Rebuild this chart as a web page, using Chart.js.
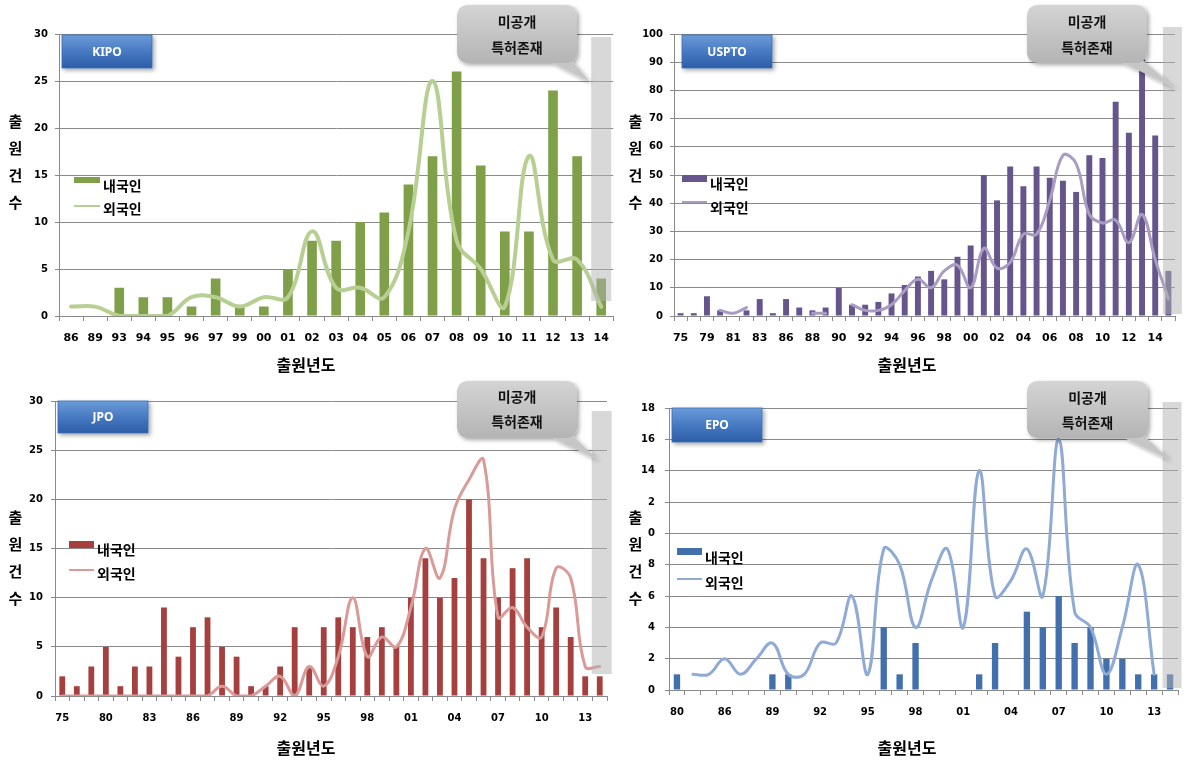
<!DOCTYPE html>
<html lang="ko">
<head>
<meta charset="utf-8">
<title>출원년도별 출원건수</title>
<script src="https://cdn.jsdelivr.net/npm/chart.js@4.4.1/dist/chart.umd.min.js"></script>
<style>
html,body{margin:0;padding:0;background:#fff;}
body{position:relative;width:1194px;height:761px;overflow:hidden;font-family:"Noto Sans CJK KR","Noto Sans",sans-serif;}
canvas{position:absolute;}
.ytitle{position:absolute;writing-mode:vertical-rl;text-orientation:upright;font-size:15px;font-weight:700;line-height:20px;letter-spacing:12px;color:#000;}
.xtitle{position:absolute;width:120px;text-align:center;font-size:16px;font-weight:700;line-height:20px;color:#000;}
.lgtext{position:absolute;font-size:14px;font-weight:700;line-height:16px;color:#000;white-space:nowrap;}
.sw{position:absolute;}
#overlay{position:absolute;left:0;top:0;}
</style>
</head>
<body>
<canvas id="cKipo" width="620" height="380" style="left:0;top:0;width:620px;height:380px;"></canvas>
<canvas id="cUspto" width="574" height="380" style="left:620px;top:0;width:574px;height:380px;"></canvas>
<canvas id="cJpo" width="620" height="381" style="left:0;top:380px;width:620px;height:381px;"></canvas>
<canvas id="cEpo" width="574" height="381" style="left:620px;top:380px;width:574px;height:381px;"></canvas>
<div id="texts"></div>
<svg id="overlay" width="1194" height="761" xmlns="http://www.w3.org/2000/svg">
  <defs>
    <linearGradient id="gBlue" x1="0" y1="0" x2="0" y2="1">
      <stop offset="0" stop-color="#6b9bd8"/><stop offset="0.55" stop-color="#4477c0"/><stop offset="1" stop-color="#2c5ea6"/>
    </linearGradient>
    <linearGradient id="gGrey" x1="0" y1="0" x2="0" y2="1">
      <stop offset="0" stop-color="#d4d4d4"/><stop offset="1" stop-color="#b4b4b4"/>
    </linearGradient>
    <filter id="sh" x="-20%" y="-30%" width="150%" height="170%">
      <feDropShadow dx="2" dy="2" stdDeviation="2" flood-color="#000" flood-opacity="0.35"/>
    </filter>
  </defs>
</svg>
<script>
// ---------- data ----------
const seriesNames = ['내국인', '외국인'];
const yAxisTitle = '출원건수';
const xAxisTitle = '출원년도';
const calloutLines = ['미공개', '특허존재'];

const kipoYears = ['86','89','93','94','95','96','97','99','00','01','02','03','04','05','06','07','08','09','10','11','12','13','14'];
const kipoDomestic = [0,0,3,2,2,1,4,1,1,5,8,8,10,11,14,17,26,16,9,9,24,17,4];
const kipoForeign  = [1,1,0,0,0,2,2,1,2,2,9,3,3,2,9,25,8,5,1,17,6,6,1];

const usptoYears = ['75','77','79','80','81','82','83','85','86','87','88','89','90','91','92','93','94','95','96','97','98','99','00','01','02','03','04','05','06','07','08','09','10','11','12','13','14','15'];
const usptoDomestic = [1,1,7,2,0,2,6,1,6,3,2,3,10,4,4,5,8,11,14,16,13,21,25,50,41,53,46,53,49,48,44,57,56,76,65,95,64,16];
const usptoForeign  = [null,null,null,2,1,3,null,null,null,null,1,1,null,4,2,2,4,9,13,10,16,18,10,24,17,19,29,29,41,57,54,36,33,34,26,36,20,6];

const jpoYears = ['75','77','79','80','81','82','83','84','85','86','87','88','89','90','91','92','93','94','95','96','97','98','99','00','01','02','03','04','05','06','07','08','09','10','11','12','13','14'];
const jpoDomestic = [2,1,3,5,1,3,3,9,4,7,8,5,4,1,1,3,7,3,7,8,7,6,7,5,10,14,10,12,20,14,10,13,14,7,9,6,2,2];
const jpoForeign  = [0,0,0,0,0,0,0,0,0,0,0,1,0,0,1,2,0,3,1,4,10,4,6,5,9,15,12,19,22,24,8,9,7,6,13,12,3,3];

const epoYears = ['80','82','84','86','87','88','89','90','91','92','93','94','95','96','97','98','99','00','01','02','03','04','05','06','07','08','09','10','11','12','13','14'];
const epoDomestic = [1,0,0,0,0,0,1,1,0,0,0,0,0,4,1,3,0,0,0,1,3,0,5,4,6,3,4,2,2,1,1,1];
const epoForeign  = [null,1,1,2,1,2,3,1,1,3,3,6,1,9,8,4,7,9,4,14,6,7,9,6,16,5,4,1,4,8,1,null];
const epoYTickLabels = ['0','2','4','6','8','0','2','14','16','18'];

// ---------- chart helpers ----------
Chart.defaults.font.family = '"DejaVu Sans", sans-serif';

const shadePlugin = {
  id: 'unpublishedShade',
  afterDatasetsDraw(chart, args, o) {
    const x = chart.scales.x, ca = chart.chartArea, ctx = chart.ctx;
    const cx = x.getPixelForValue(chart.data.labels.length - 1) + o.dx;
    const top = ca.top + o.top, bottom = ca.bottom + o.bottom;
    ctx.save();
    ctx.fillStyle = o.color;
    ctx.fillRect(cx - o.w / 2, top, o.w, bottom - top);
    ctx.restore();
  }
};

function panel(id, p) {
  return new Chart(document.getElementById(id), {
    type: 'bar',
    data: {
      labels: p.years,
      datasets: [
        { type: 'line', label: seriesNames[1], data: p.foreign, borderColor: p.lineColor,
          borderWidth: p.lineWidth, pointRadius: 0, tension: 0.4, fill: false, order: 0,
          borderCapStyle: 'round', borderJoinStyle: 'round' },
        { type: 'bar', label: seriesNames[0], data: p.domestic, backgroundColor: p.barColor,
          barPercentage: p.barPct, categoryPercentage: 1, order: 1 }
      ]
    },
    options: {
      responsive: false, animation: false, maintainAspectRatio: false,
      layout: { padding: { left: 0, top: p.top, right: p.right, bottom: 0 } },
      plugins: {
        legend: { display: false }, tooltip: { enabled: false },
        unpublishedShade: Object.assign({ color: 'rgba(178,178,178,0.5)' }, p.shade)
      },
      scales: {
        x: {
          offset: true,
          grid: { display: true, drawOnChartArea: false, drawTicks: true, tickLength: 5, color: '#8a8a8a', offset: true },
          border: { display: true, color: '#8a8a8a' },
          ticks: { autoSkip: false, maxRotation: 0, minRotation: 0, padding: 11, color: '#000',
                   font: { weight: 'bold', size: p.xFont },
                   callback: (v, i) => (i % p.step === 0 ? p.years[i] : '') },
          afterFit: s => { s.height = p.xH; }
        },
        y: {
          min: 0, max: p.max,
          grid: { color: '#8a8a8a', tickLength: 4 },
          border: { display: true, color: '#8a8a8a' },
          ticks: { stepSize: p.stepSize, padding: p.yPad, color: '#000', font: { weight: 'bold', size: 10 },
                   callback: p.yCb || (v => v) },
          afterFit: s => { s.width = p.left; }
        }
      }
    },
    plugins: [shadePlugin]
  });
}

panel('cKipo', { years: kipoYears, domestic: kipoDomestic, foreign: kipoForeign,
  barColor: '#7f9f48', lineColor: '#b8cf93', lineWidth: 4, barPct: 0.4,
  top: 34, right: 6, left: 59, xH: 64, xFont: 11, step: 1, max: 30, stepSize: 5, yPad: 7,
  shade: { dx: 0, w: 20, top: 3, bottom: -15 } });

panel('cUspto', { years: usptoYears, domestic: usptoDomestic, foreign: usptoForeign,
  barColor: '#66558c', lineColor: '#a99cc0', lineWidth: 3, barPct: 0.45,
  top: 34, right: 19, left: 54, xH: 64, xFont: 11, step: 2, max: 100, stepSize: 10, yPad: 7,
  shade: { dx: 4, w: 19, top: -7, bottom: -2 } });

panel('cJpo', { years: jpoYears, domestic: jpoDomestic, foreign: jpoForeign,
  barColor: '#a5403e', lineColor: '#d99a98', lineWidth: 3, barPct: 0.4,
  top: 21, right: 13, left: 55, xH: 65, xFont: 10, step: 3, max: 30, stepSize: 5, yPad: 8,
  shade: { dx: 2, w: 20, top: 10, bottom: -22 } });

panel('cEpo', { years: epoYears, domestic: epoDomestic, foreign: epoForeign,
  barColor: '#4170ad', lineColor: '#8eaad5', lineWidth: 3, barPct: 0.4,
  top: 28, right: 16, left: 49, xH: 71, xFont: 10, step: 3, max: 18, stepSize: 2, yPad: 10,
  yCb: (v, i) => epoYTickLabels[i],
  shade: { dx: 2, w: 19, top: -6, bottom: -2 } });

// ---------- HTML text: axis titles and legends ----------
const texts = document.getElementById('texts');
function addDiv(cls, style, text) {
  const d = document.createElement('div');
  d.className = cls; d.setAttribute('style', style);
  if (text !== undefined) d.textContent = text;
  texts.appendChild(d); return d;
}
const layouts = [
  { yt: [5, 114], xt: [246, 354], bar: [74, 177, 26, 6, '#7f9f48'], line: [74, 205, 26, 2, '#b8cf93'], t1: [103, 177], t2: [103, 200] },
  { yt: [625, 114], xt: [847, 354], bar: [682, 175, 25, 7, '#66558c'], line: [682, 201, 25, 2, '#a99cc0'], t1: [710, 175], t2: [710, 199] },
  { yt: [5, 510], xt: [246, 737], bar: [69, 541, 25, 7, '#a5403e'], line: [69, 569, 25, 2, '#d99a98'], t1: [97, 541], t2: [97, 565] },
  { yt: [625, 510], xt: [847, 737], bar: [677, 548, 25, 7, '#4170ad'], line: [677, 578, 25, 2, '#8eaad5'], t1: [705, 549], t2: [705, 574] }
];
layouts.forEach(L => {
  addDiv('ytitle', `left:${L.yt[0]}px;top:${L.yt[1]}px;`, yAxisTitle);
  addDiv('xtitle', `left:${L.xt[0]}px;top:${L.xt[1]}px;`, xAxisTitle);
  addDiv('sw', `left:${L.bar[0]}px;top:${L.bar[1]}px;width:${L.bar[2]}px;height:${L.bar[3]}px;background:${L.bar[4]};`);
  addDiv('sw', `left:${L.line[0]}px;top:${L.line[1]}px;width:${L.line[2]}px;height:${L.line[3]}px;background:${L.line[4]};`);
  addDiv('lgtext', `left:${L.t1[0]}px;top:${L.t1[1]}px;`, seriesNames[0]);
  addDiv('lgtext', `left:${L.t2[0]}px;top:${L.t2[1]}px;`, seriesNames[1]);
});

// ---------- SVG overlay: office tags and callouts ----------
const NS = 'http://www.w3.org/2000/svg';
const svg = document.getElementById('overlay');
function el(name, attrs, parent) {
  const e = document.createElementNS(NS, name);
  for (const k in attrs) e.setAttribute(k, attrs[k]);
  (parent || svg).appendChild(e); return e;
}
const tags = [
  { text: 'KIPO',  r: [62, 35, 152, 68],  ty: 51 },
  { text: 'USPTO', r: [682, 35, 772, 68], ty: 51 },
  { text: 'JPO',   r: [58, 401, 148, 433], ty: 416 },
  { text: 'EPO',   r: [672, 408, 762, 442], ty: 424 }
];
tags.forEach(t => {
  const g = el('g', { filter: 'url(#sh)' });
  el('rect', { x: t.r[0], y: t.r[1], width: t.r[2] - t.r[0], height: t.r[3] - t.r[1], fill: 'url(#gBlue)', stroke: '#3b6db3', 'stroke-width': 0.8 }, g);
  const tx = el('text', { x: (t.r[0] + t.r[2]) / 2, y: t.ty, 'text-anchor': 'middle', 'dominant-baseline': 'central',
    fill: '#fff', 'font-family': '"Noto Sans","Open Sans",sans-serif', 'font-size': 12, 'font-weight': 700 });
  tx.textContent = t.text;
});
const callouts = [
  { b: [457, 5, 577, 63],    tip: [590, 82],   ly: [21, 47] },
  { b: [1027, 5, 1147, 63],  tip: [1175, 88],  ly: [21, 47] },
  { b: [457, 381, 577, 438], tip: [598, 460],  ly: [396, 421] },
  { b: [1027, 381, 1148, 438], tip: [1170, 460], ly: [397, 422] }
];
callouts.forEach(c => {
  const [x1, y1, x2, y2] = c.b, r = 12;
  const g = el('g', { filter: 'url(#sh)' });
  el('path', { d: `M${x2 - 30},${y2 - 3} L${c.tip[0]},${c.tip[1]} L${x2 - 8},${y2 - 6} Z`, fill: '#c6c6c6' }, g);
  el('path', { d: `M${x1 + r},${y1} H${x2 - r} Q${x2},${y1} ${x2},${y1 + r} V${y2 - r} Q${x2},${y2} ${x2 - r},${y2} H${x1 + r} Q${x1},${y2} ${x1},${y2 - r} V${y1 + r} Q${x1},${y1} ${x1 + r},${y1} Z`, fill: 'url(#gGrey)' }, g);
  calloutLines.forEach((s, i) => {
    const tx = el('text', { x: (x1 + x2) / 2, y: c.ly[i], 'text-anchor': 'middle', 'dominant-baseline': 'central',
      fill: '#111', 'font-family': '"Noto Sans CJK KR",sans-serif', 'font-size': 14, 'font-weight': 700 });
    tx.textContent = s;
  });
});
</script>
</body>
</html>
